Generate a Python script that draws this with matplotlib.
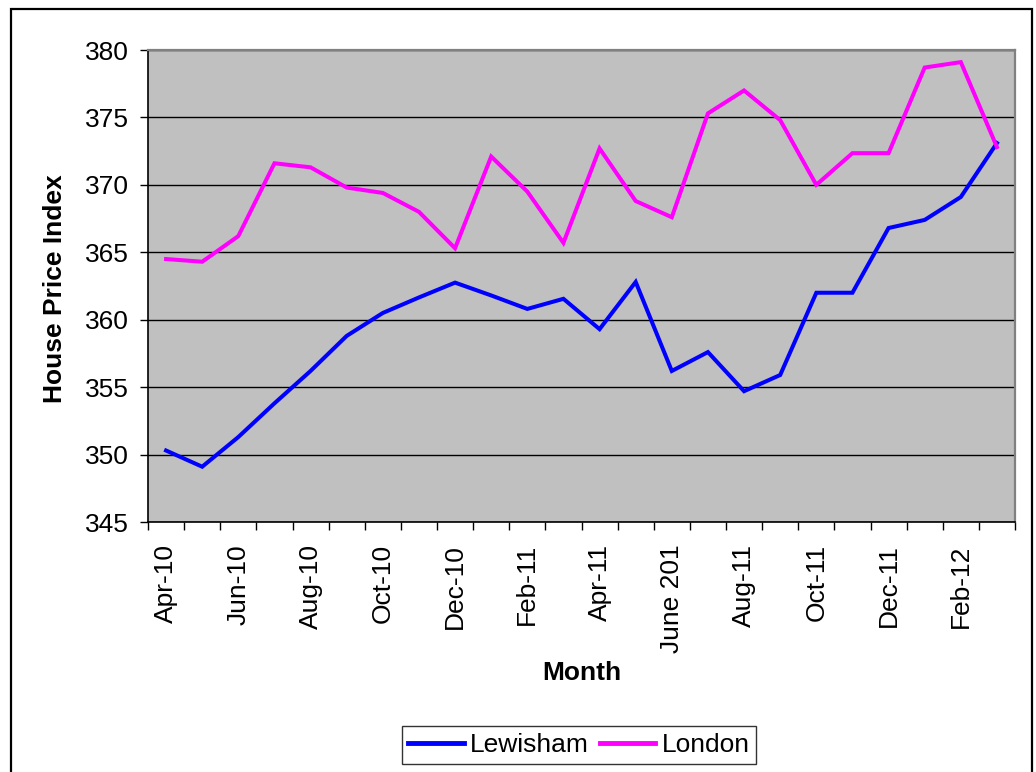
import matplotlib
matplotlib.use("Agg")
import matplotlib.pyplot as plt
import numpy as np

plt.rcParams['font.family'] = ['Liberation Sans', 'DejaVu Sans']

# monthly house price index, Apr-10 .. Mar-12
months = ["Apr-10", "May-10", "Jun-10", "Jul-10", "Aug-10", "Sep-10",
          "Oct-10", "Nov-10", "Dec-10", "Jan-11", "Feb-11", "Mar-11",
          "Apr-11", "May-11", "June 201", "Jul-11", "Aug-11", "Sep-11",
          "Oct-11", "Nov-11", "Dec-11", "Jan-12", "Feb-12", "Mar-12"]
lewisham = [350.3, 349.1, 351.3, 353.8, 356.2, 358.8, 360.5, 361.65,
            362.75, 361.8, 360.8, 361.55, 359.3, 362.8, 356.2, 357.6,
            354.7, 355.9, 362.0, 362.0, 366.8, 367.4, 369.1, 373.1]
london = [364.5, 364.3, 366.2, 371.6, 371.3, 369.8, 369.4, 368.0,
          365.3, 372.1, 369.5, 365.7, 372.7, 368.8, 367.6, 375.3,
          377.0, 374.8, 370.0, 372.35, 372.35, 378.7, 379.1, 372.8]
yticks = [345, 350, 355, 360, 365, 370, 375, 380]

W, H = 1036, 772
fig = plt.figure(figsize=(W / 100, H / 100), dpi=100)

# outer chart border
fig.patches.append(plt.Rectangle((11 / W, -0.1), (1032 - 11) / W, (772 - 9) / H + 0.1,
                                 transform=fig.transFigure, fill=False,
                                 edgecolor='black', lw=1.6, clip_on=False))

ax = fig.add_axes([148 / W, 1 - 522 / H, 867 / W, 472 / H])
ax.set_facecolor('#C0C0C0')

x = np.arange(len(months))
ax.plot(x, lewisham, color='#0000FF', lw=2.9, label='Lewisham', solid_joinstyle='miter')
ax.plot(x, london, color='#FF00FF', lw=2.9, label='London', solid_joinstyle='miter')

ax.set_xlim(-0.5, len(months) - 0.5)
ax.set_ylim(345, 380)
ax.set_yticks(yticks)
ax.set_yticklabels([str(v) for v in yticks], fontsize=19)
ax.yaxis.grid(True, color='black', lw=1.0)
ax.set_axisbelow(True)

ax.set_xticks(x[::2])
ax.set_xticklabels(months[::2], rotation=90, fontsize=19)
ax.set_xticks(np.arange(-0.5, len(months)), minor=True)
ax.tick_params(axis='x', which='major', length=0, pad=16)
ax.tick_params(axis='x', which='minor', length=6, width=1)
ax.tick_params(axis='y', length=6, width=1, pad=8)

for s in ['top', 'right']:
    ax.spines[s].set_color('#808080')
    ax.spines[s].set_linewidth(1.6)
for s in ['left', 'bottom']:
    ax.spines[s].set_color('black')
    ax.spines[s].set_linewidth(1.2)

fig.text(55 / W, 1 - 289 / H, 'House Price Index', rotation=90, ha='center',
         va='center', fontsize=19, fontweight='bold')
fig.text(582 / W, 1 - 673 / H, 'Month', ha='center', va='center',
         fontsize=19, fontweight='bold')

leg = fig.legend(loc='center', bbox_to_anchor=(579 / W, 1 - 745 / H), ncol=2,
                 fontsize=19, frameon=True, fancybox=False, handlelength=2.1,
                 handletextpad=0.25, columnspacing=0.4, borderpad=0.25,
                 borderaxespad=0)
leg.get_frame().set_edgecolor('black')
leg.get_frame().set_linewidth(1.0)
for l in leg.get_lines():
    l.set_linewidth(3.5)

fig.savefig('out.png', dpi=100)
